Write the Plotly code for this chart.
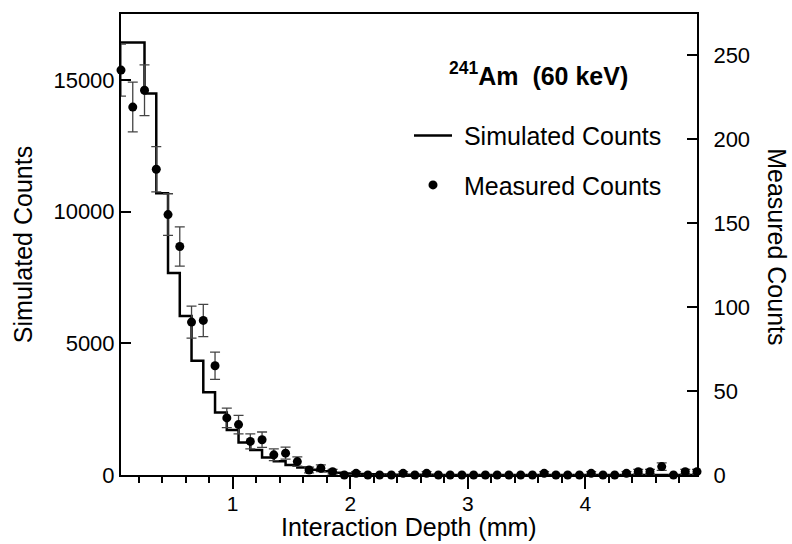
import plotly.graph_objects as go

# ---- data ----
depth_mm = [0.05, 0.15, 0.25, 0.35, 0.45, 0.55, 0.65, 0.75, 0.85, 0.95,
            1.05, 1.15, 1.25, 1.35, 1.45, 1.55, 1.65, 1.75, 1.85, 1.95,
            2.05, 2.15, 2.25, 2.35, 2.45, 2.55, 2.65, 2.75, 2.85, 2.95,
            3.05, 3.15, 3.25, 3.35, 3.45, 3.55, 3.65, 3.75, 3.85, 3.95,
            4.05, 4.15, 4.25, 4.35, 4.45, 4.55, 4.65, 4.75, 4.85, 4.95]

simulated_counts = [16420, 16420, 14480, 10700, 7670, 6040, 4340, 3140, 2370, 1710,
                    1230, 950, 660, 520, 380, 285, 200, 140, 90, 60,
                    40, 28, 18, 12, 8, 6, 5, 4, 3, 2,
                    2, 1, 1, 1, 1, 1, 0, 0, 0, 0,
                    0, 0, 0, 0, 0, 0, 0, 0, 0, 0]

measured_counts = [241, 219, 229, 182, 155, 136, 91, 92, 65, 34,
                   30, 20, 21, 12, 13, 8, 3, 4, 2, 0,
                   1, 0, 0, 0, 1, 0, 1, 0, 0, 0,
                   0, 0, 0, 0, 0, 0, 1, 0, 0, 0,
                   1, 0, 0, 1, 2, 2, 5, 0, 2, 2]

measured_err = [15.5, 14.8, 15.1, 13.5, 12.4, 11.7, 9.5, 9.6, 8.1, 5.8,
                5.5, 4.5, 4.6, 3.5, 3.6, 2.8, 1.7, 2.0, 1.4, 0,
                1.0, 0, 0, 0, 1.0, 0, 1.0, 0, 0, 0,
                0, 0, 0, 0, 0, 0, 1.0, 0, 0, 0,
                1.0, 0, 0, 1.0, 1.4, 1.4, 2.2, 0, 1.4, 1.4]

left_ticks = [0, 5000, 10000, 15000]
right_ticks = [0, 50, 100, 150, 200, 250]
x_ticks = [1, 2, 3, 4]

FONT = "Liberation Sans, Arial, Helvetica, sans-serif"

fig = go.Figure()
fig.add_trace(go.Scatter(
    x=depth_mm, y=simulated_counts, mode="lines", name="&nbsp;Simulated Counts",
    legendgroup="sim",
    line=dict(shape="hv", color="black", width=2.5),
    yaxis="y"))
fig.add_trace(go.Scatter(
    x=depth_mm, y=measured_counts, mode="markers", name="&nbsp;Measured Counts",
    legendgroup="meas",
    marker=dict(color="black", size=9),
    error_y=dict(type="data", array=measured_err, visible=True,
                 color="#444444", thickness=1.3, width=5),
    cliponaxis=False,
    yaxis="y2"))

fig.update_layout(
    template="none",
    width=792, height=544,
    margin=dict(l=121, r=95, t=14, b=69, autoexpand=False),
    paper_bgcolor="white", plot_bgcolor="white",
    font=dict(family=FONT, size=22, color="black"),
    showlegend=True,
    xaxis=dict(
        range=[0.05, 4.95], tickvals=x_ticks, automargin=False,
        ticks="outside", ticklen=12, tickwidth=1.5, tickcolor="black",
        showline=True, linecolor="black", linewidth=2, mirror=True,
        showgrid=False, zeroline=False, ticklabelstandoff=-3,
        tickfont=dict(size=21),
        minor=dict(dtick=0.2, tick0=0, ticks="outside", ticklen=6,
                   tickwidth=1.5, tickcolor="black", showgrid=False),
    ),
    yaxis=dict(
        range=[0, 17500], tickvals=left_ticks, tickformat="d", automargin=False,
        ticks="inside", ticklen=10, tickwidth=1.5, tickcolor="black",
        showline=True, linecolor="black", linewidth=2,
        showgrid=False, zeroline=False,
        title=dict(text="Simulated Counts", font=dict(size=25), standoff=14),
    ),
    yaxis2=dict(
        range=[0, 274.4], tickvals=right_ticks, overlaying="y", side="right",
        automargin=False,
        ticks="inside", ticklen=10, tickwidth=1.5, tickcolor="black",
        showline=True, linecolor="black", linewidth=2,
        showgrid=False, zeroline=False, ticklabelstandoff=10,
    ),
    legend=dict(
        x=0.5, y=0.786, xanchor="left", yanchor="top",
        bgcolor="rgba(0,0,0,0)", borderwidth=0,
        font=dict(size=25), tracegroupgap=14, itemwidth=38,
    ),
    annotations=[
        dict(text="<b><sup>241</sup>Am&nbsp; (60 keV)</b>", xref="paper", yref="paper",
             x=0.724, y=0.870, xanchor="center", yanchor="middle",
             showarrow=False, font=dict(size=25)),
        dict(text="Measured Counts", xref="paper", yref="paper",
             x=1.14, y=0.495, xanchor="center", yanchor="middle",
             textangle=90, showarrow=False, font=dict(size=25)),
        dict(text="Interaction Depth (mm)", xref="paper", yref="paper",
             x=0.5, y=-0.112, xanchor="center", yanchor="middle",
             showarrow=False, font=dict(size=25)),
    ],
)

fig.write_html("out.html",
               config={"displayModeBar": False},
               post_script="document.body.style.margin='0';document.body.style.overflow='hidden';")
